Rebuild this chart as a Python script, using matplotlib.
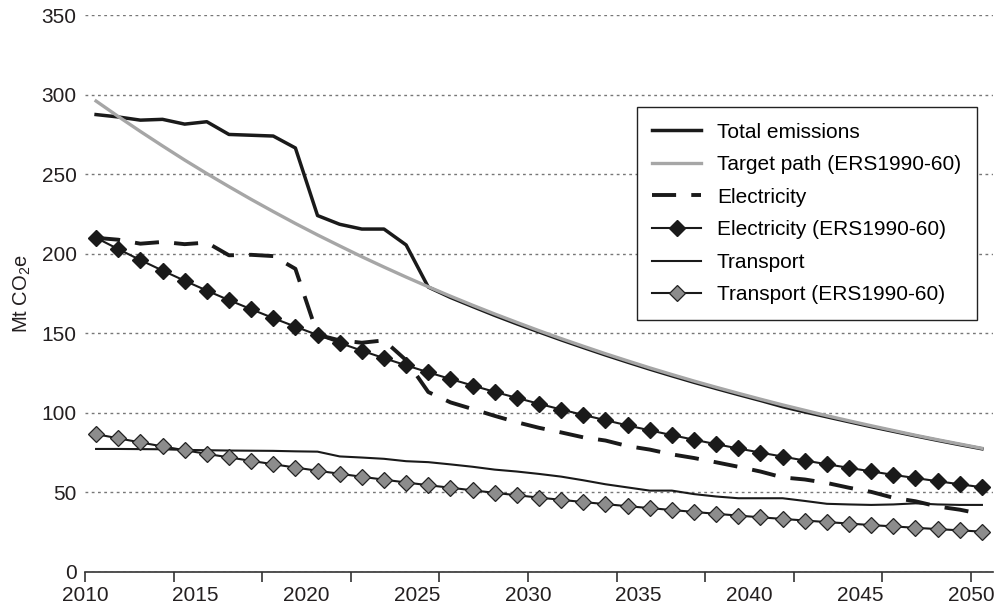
import matplotlib.pyplot as plt
import numpy as np

plt.rcParams["font.family"] = ["Liberation Sans", "DejaVu Sans"]
plt.rcParams["mathtext.default"] = "regular"

# Values (Mt CO2e), one per year 2010..2050
years = np.arange(2010, 2051)

total = [287.5, 286.0, 284.0, 284.5, 281.5, 283.0, 275.0, 274.5, 274.0, 266.5,
         224.0, 218.5, 215.5, 215.5, 205.5, 179.0, 172.5, 166.8, 161.2, 155.9,
         150.8, 145.8, 141.0, 136.3, 131.8, 127.4, 123.2, 119.1, 115.2, 111.4,
         107.7, 103.8, 100.5, 97.4, 94.3, 91.2, 88.3, 85.4, 82.6, 79.9, 77.3]

target = [296.0, 286.3, 276.9, 267.8, 258.9, 250.4, 242.2, 234.2, 226.5, 219.0,
          211.8, 204.9, 198.1, 191.6, 185.3, 179.2, 173.3, 167.6, 162.1, 156.8,
          151.6, 146.6, 141.8, 137.1, 132.6, 128.2, 124.0, 119.9, 116.0, 112.2,
          108.5, 104.9, 101.5, 98.1, 94.9, 91.8, 88.8, 85.8, 83.0, 80.3, 77.6]

electricity = [210.0, 208.8, 206.3, 207.4, 206.0, 207.0, 199.0, 199.3, 198.5, 190.5,
               149.0, 145.5, 144.0, 145.5, 133.0, 113.0, 106.5, 102.3, 98.0, 94.0,
               90.5, 87.6, 84.5, 82.5, 79.0, 76.8, 73.8, 71.5, 68.8, 66.0,
               63.0, 59.3, 58.0, 55.8, 52.8, 50.2, 46.5, 44.3, 41.0, 39.0, 36.2]

electricity_ers = [210.0, 202.9, 196.0, 189.4, 183.0, 176.8, 170.8, 165.1, 159.5, 154.1,
                   148.9, 143.9, 139.0, 134.3, 129.8, 125.4, 121.2, 117.1, 113.1, 109.3,
                   105.6, 102.0, 98.6, 95.3, 92.0, 88.9, 85.9, 83.0, 80.2, 77.5,
                   74.9, 72.4, 69.9, 67.6, 65.3, 63.1, 60.9, 58.9, 56.9, 55.0, 53.1]

transport = [77.2, 77.2, 77.1, 77.0, 76.6, 76.4, 76.2, 76.1, 76.0, 75.7,
             75.5, 72.5, 71.8, 71.0, 69.5, 68.9, 67.5, 66.0, 64.2, 63.0,
             61.5, 59.8, 57.5, 55.0, 53.0, 51.0, 51.0, 48.8, 47.3, 46.2,
             46.2, 46.2, 44.5, 42.7, 42.3, 42.0, 42.3, 43.0, 42.3, 42.0, 42.0]

transport_ers = [86.5, 83.9, 81.3, 78.8, 76.4, 74.1, 71.9, 69.7, 67.6, 65.5,
                 63.5, 61.6, 59.7, 57.9, 56.1, 54.4, 52.8, 51.2, 49.6, 48.1,
                 46.6, 45.2, 43.8, 42.5, 41.2, 40.0, 38.8, 37.6, 36.4, 35.3,
                 34.2, 33.2, 32.2, 31.2, 30.3, 29.3, 28.5, 27.6, 26.8, 26.0, 25.2]

label_years = [2010, 2015, 2020, 2025, 2030, 2035, 2040, 2045, 2050]
y_ticks = [0, 50, 100, 150, 200, 250, 300, 350]

# points sit in the middle of each yearly category
x = years + 0.5

fig = plt.figure(figsize=(10.03, 6.10), dpi=100)
ax = fig.add_axes([85 / 1003, 1 - 571.7 / 610, 908 / 1003, 556.5 / 610])

ax.plot(x, total, color="#1a1a1a", lw=2.5, label="Total emissions", zorder=3)
ax.plot(x, target, color="#a6a6a6", lw=2.4, label="Target path (ERS1990-60)", zorder=4)
ax.plot(x, electricity, color="#1a1a1a", lw=2.8, linestyle=(0, (6.2, 3.9)),
        dash_capstyle="butt", label="Electricity", zorder=3)
ax.plot(x, electricity_ers, color="#1a1a1a", lw=1.5, marker="D", markersize=8,
        markerfacecolor="#1a1a1a", markeredgecolor="#1a1a1a",
        label="Electricity (ERS1990-60)", zorder=3)
ax.plot(x, transport, color="#1a1a1a", lw=1.5, label="Transport", zorder=3)
ax.plot(x, transport_ers, color="#1a1a1a", lw=1.5, marker="D", markersize=8,
        markerfacecolor="#8c8c8c", markeredgecolor="#222222", markeredgewidth=0.9,
        label="Transport (ERS1990-60)", zorder=3)

ax.set_xlim(2010, 2051)
ax.set_ylim(0, 350)

# ticks every 4 years, labels every 5 years (as in the original)
ax.xaxis.remove_overlapping_locs = False
ax.set_xticks(np.arange(2010, 2051, 4))
ax.set_xticklabels([])
ax.set_xticks(label_years, minor=True)
ax.set_xticklabels([str(y) for y in label_years], minor=True)
ax.tick_params(axis="x", which="major", length=7, width=1.2, color="#333333", direction="out")
ax.tick_params(axis="x", which="minor", length=0, pad=10, labelsize=15, labelcolor="#231f20")

ax.set_yticks(y_ticks)
ax.tick_params(axis="y", length=0, pad=6, labelsize=15, labelcolor="#231f20")

ax.yaxis.grid(True, linestyle=(0, (2, 2.5)), color="#777777", lw=1.0)
ax.set_axisbelow(True)

for side in ["left", "right", "top"]:
    ax.spines[side].set_visible(False)
ax.spines["bottom"].set_color("#333333")
ax.spines["bottom"].set_linewidth(1.2)

ax.set_ylabel("Mt CO$_2$e", fontsize=14.5, color="#231f20", labelpad=6)

leg = ax.legend(loc="upper right", bbox_to_anchor=(0.982, 0.835), fontsize=15,
                frameon=True, fancybox=False, framealpha=1, edgecolor="#222222",
                borderaxespad=0, borderpad=0.75, labelspacing=0.65,
                handlelength=2.35, handletextpad=0.75, numpoints=1)
leg.get_frame().set_linewidth(1.0)
leg.set_zorder(10)

fig.savefig("out.png", dpi=100)
